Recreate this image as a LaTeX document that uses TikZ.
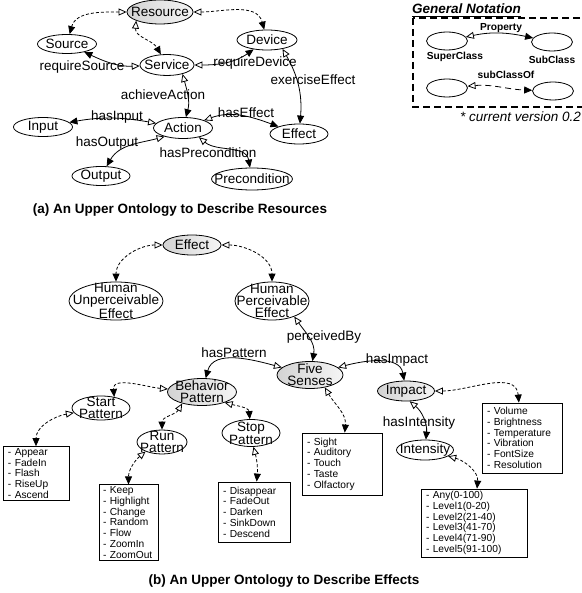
\documentclass[tikz,border=0pt]{standalone}
\usepackage{fontspec}
\setmainfont{Liberation Sans}
\usetikzlibrary{shapes.geometric,arrows.meta}
\begin{document}
\begin{tikzpicture}[x=1pt,y=1pt,
  cls/.style={ellipse, draw, line width=0.8pt, inner sep=-30pt, font=\fontsize{13.5}{12}\selectfont, align=center},
  supcls/.style={cls, left color=gray!35, right color=gray!8},
  relarrow/.style={line width=0.8pt, {Triangle[open,length=8pt,width=7pt]}-{Triangle[length=8pt,width=7pt]}},
  subcl/.style={relarrow, dash pattern=on 3pt off 2pt},
  lbl/.style={font=\fontsize{13.5}{15}\selectfont, inner sep=0pt},
  lst/.style={draw, line width=0.8pt, rectangle, inner xsep=5pt, inner ysep=2pt, align=left, font=\fontsize{10.2}{10.7}\selectfont},
  legtext/.style={font=\bfseries\fontsize{10.2}{12}\selectfont, inner sep=0pt},
  captext/.style={font=\bfseries\fontsize{13.5}{15}\selectfont, inner sep=0pt}
]
\useasboundingbox (0,0) rectangle (581,-593);

% ---------- (a) ----------
\node[supcls, minimum width=66pt, minimum height=24pt] (res) at (160,-12) {Resource};
\node[cls, minimum width=59pt, minimum height=19pt] (src) at (67,-44) {Source};
\node[cls, minimum width=60pt, minimum height=20pt] (dev) at (267,-40) {Device};
\node[cls, minimum width=54pt, minimum height=21pt] (svc) at (167,-65) {Service};
\node[cls, minimum width=59pt, minimum height=21pt] (act) at (183,-128) {Action};
\node[cls, minimum width=59pt, minimum height=19pt] (inp) at (43,-127) {Input};
\node[cls, minimum width=58pt, minimum height=19pt] (outp) at (101,-176) {Output};
\node[cls, minimum width=81pt, minimum height=22pt] (pre) at (252,-179) {Precondition};
\node[cls, minimum width=58pt, minimum height=20pt] (eff) at (299,-134) {Effect};

\draw[subcl] (res) to[out=180,in=75] (src);
\draw[subcl] (res) to[out=0,in=105] (dev);
\draw[subcl] (res.200) to[out=265,in=120] (svc);
\draw[relarrow] (svc) to[out=182,in=-25] (src);
\draw[relarrow] (svc) to[out=0,in=215] (dev);
\draw[relarrow] (svc.-30) to[out=-75,in=75] (act);
\draw[relarrow] (dev.-30) to[out=-60,in=85] (eff);
\draw[relarrow] (act) to[out=170,in=10] (inp);
\draw[relarrow] (act.205) to[out=195,in=60] (outp);
\draw[relarrow] (act) to[out=20,in=160] (eff);
\draw[relarrow] (act.-30) to[out=-40,in=100] (pre);

\node[lbl] (lreqs) at (82,-67) {requireSource};
\node[lbl] (lreqd) at (255,-63) {requireDevice};
\node[lbl] (lach) at (163,-95) {achieveAction};
\node[lbl] (lexe) at (313,-80) {exerciseEffect};
\node[lbl] (lin) at (117,-117) {hasInput};
\node[lbl] (lout) at (107,-143) {hasOutput};
\node[lbl] (leff) at (246,-113) {hasEffect};
\node[lbl] (lpre) at (208,-153) {hasPrecondition};

\node[captext] (capa) at (180,-210) {(a) An Upper Ontology to Describe Resources};

% ---------- legend ----------
\node[font=\bfseries\itshape\fontsize{13.5}{15}\selectfont, inner xsep=0pt, inner ysep=2pt, anchor=base west] (gn) at (412,-14) {General Notation};
\draw[line width=1pt] (gn.south west) -- (gn.south east);
\draw[line width=1.2pt, dash pattern=on 7pt off 4pt] (413,-18) rectangle (600,-107);
\node[cls, minimum width=41pt, minimum height=18pt] (lsup1) at (447,-41) {};
\node[cls, minimum width=41pt, minimum height=18pt] (lsub1) at (552,-42) {};
\node[cls, minimum width=41pt, minimum height=18pt] (lsup2) at (447,-88) {};
\node[cls, minimum width=41pt, minimum height=18pt] (lsub2) at (553,-91) {};
\draw[relarrow] (lsup1) to[out=12,in=168] (lsub1);
\draw[relarrow, dash pattern=on 6pt off 4pt] (lsup2) to[out=5,in=178] (lsub2);
\node[legtext] (lprop) at (501,-28) {Property};
\node[legtext] (lsupt) at (455,-57) {SuperClass};
\node[legtext] (lsubt) at (552,-60) {SubClass};
\node[legtext] (lsubof) at (506,-75) {subClassOf};
\node[font=\itshape\fontsize{13.5}{15}\selectfont, inner sep=0pt, anchor=west] (ver) at (460,-117) {* current version 0.2};

% ---------- (b) ----------
\node[supcls, minimum width=58pt, minimum height=20pt] (effb) at (192,-245) {Effect};
\node[cls, minimum width=94pt, minimum height=38pt] (hu) at (116,-301) {Human\\Unperceivable\\Effect};
\node[cls, minimum width=74pt, minimum height=38pt] (hp) at (272,-301) {Human\\Perceivable\\Effect};
\node[supcls, minimum width=66pt, minimum height=27pt] (five) at (310,-375) {Five\\Senses};
\node[supcls, minimum width=57pt, minimum height=20pt] (imp) at (406,-391) {Impact};
\node[cls, minimum width=57pt, minimum height=20pt] (ints) at (425,-450) {Intensity};
\node[supcls, minimum width=69pt, minimum height=27pt] (bp) at (202,-392) {Behavior\\Pattern};
\node[cls, minimum width=58pt, minimum height=24pt] (stp) at (101,-408) {Start\\Pattern};
\node[cls, minimum width=50pt, minimum height=24pt] (run) at (162,-442) {Run\\Pattern};
\node[cls, minimum width=58pt, minimum height=27pt] (stop) at (251,-433) {Stop\\Pattern};

\node[lst, text width=70pt, minimum height=70pt] (volbox) at (522,-438) {- Volume\\- Brightness\\- Temperature\\- Vibration\\- FontSize\\- Resolution};
\node[lst, text width=70pt, minimum height=62pt] (sensebox) at (342,-464) {- Sight\\- Auditory\\- Touch\\- Taste\\- Olfactory};
\node[lst, text width=96pt, minimum height=68pt] (levbox) at (474,-523) {- Any(0-100)\\- Level1(0-20)\\- Level2(21-40)\\- Level3(41-70)\\- Level4(71-90)\\- Level5(91-100)};
\node[lst, text width=56pt, minimum height=53pt] (startbox) at (36,-473.5) {- Appear\\- FadeIn\\- Flash\\- RiseUp\\- Ascend};
\node[lst, inner xsep=4pt, text width=51pt, minimum height=75pt] (runbox) at (128.5,-522.5) {- Keep\\- Highlight\\- Change\\- Random\\- Flow\\- ZoomIn\\- ZoomOut};
\node[lst, text width=62pt, minimum height=60pt] (stopbox) at (254,-512) {- Disappear\\- FadeOut\\- Darken\\- SinkDown\\- Descend};

\draw[subcl] (effb) to[out=180,in=90] (hu);
\draw[subcl] (effb) to[out=0,in=90] (hp);
\draw[relarrow] (hp.-35) to[out=-55,in=80] (five);
\draw[relarrow] (five) to[out=165,in=75] (bp);
\draw[relarrow] (five) to[out=15,in=100] (imp);
\draw[subcl] (five.-40) to[out=-60,in=85] (sensebox);
\draw[subcl] (imp) to[out=0,in=95] (volbox);
\draw[relarrow] (imp.-70) to[out=-40,in=85] (ints);
\draw[subcl] (ints) to[out=-15,in=85] (levbox);
\draw[subcl] (bp) to[out=175,in=95] (stp.40);
\draw[subcl] (bp.210) to[out=240,in=90] (run);
\draw[subcl] (bp.-25) to[out=-15,in=95] (stop);
\draw[subcl] (stp.190) to[out=190,in=90] (startbox);
\draw[subcl] (run.210) to[out=220,in=90] (runbox);
\draw[subcl] (stop.-80) to[out=-75,in=85] (stopbox);

\node[lbl] (lpat) at (234,-353) {hasPattern};
\node[lbl] (lperc) at (324,-337) {perceivedBy};
\node[lbl] (limp) at (397,-360) {hasImpact};
\node[lbl] (lint) at (419,-423) {hasIntensity};

\node[captext] (capb) at (284,-581) {(b) An Upper Ontology to Describe Effects};
\end{tikzpicture}
\end{document}
